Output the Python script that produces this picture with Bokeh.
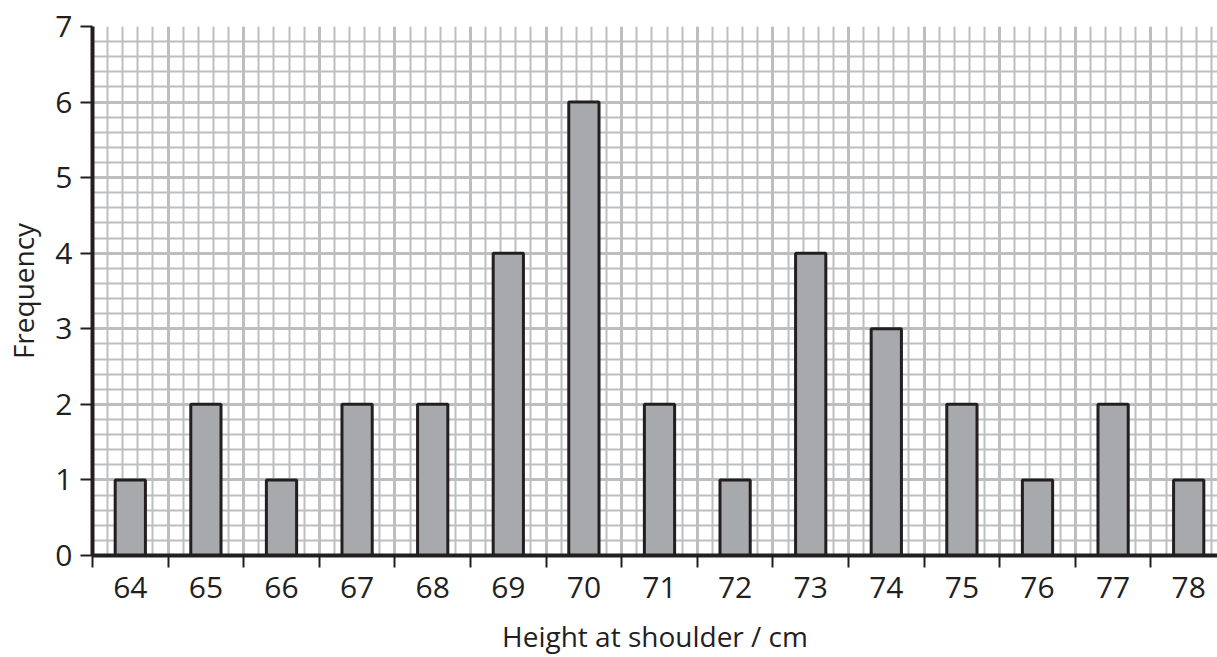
import numpy as np
from bokeh.plotting import figure
from bokeh.models import Range1d, FixedTicker
from bokeh.embed import file_html
from bokeh.resources import INLINE

# ---- data ----
heights = [64, 65, 66, 67, 68, 69, 70, 71, 72, 73, 74, 75, 76, 77, 78]
frequency = [1, 2, 1, 2, 2, 4, 6, 2, 1, 4, 3, 2, 1, 2, 1]
y_ticks = [0, 1, 2, 3, 4, 5, 6, 7]

DARK = "#231f20"
GRID = "#bcbec0"
BAR = "#a7a9ac"
FONT = "Open Sans"

x_start = heights[0] - 0.5
x_end = x_start + 1125 / 75.6

p = figure(width=1217, height=657, output_backend="svg", toolbar_location=None,
           x_range=Range1d(x_start, x_end), y_range=Range1d(0, 7),
           min_border_left=92, min_border_right=0, min_border_top=26, min_border_bottom=100)
p.outline_line_color = None
p.background_fill_color = "white"

boundaries = [h - 0.5 for h in heights] + [heights[-1] + 0.5]
x_fine = list(np.round(np.arange(x_start, heights[-1] + 0.6, 0.2), 3))
y_fine = list(np.round(np.arange(0, 7.01, 0.2), 3))

# grid
p.xgrid.ticker = FixedTicker(ticks=boundaries, minor_ticks=x_fine)
p.ygrid.ticker = FixedTicker(ticks=y_ticks, minor_ticks=y_fine)
for g in (p.xgrid, p.ygrid):
    g.grid_line_color = GRID
    g.grid_line_width = 3
    g.minor_grid_line_color = GRID
    g.minor_grid_line_width = 2

# bars
p.vbar(x=heights, top=frequency, width=0.4, bottom=0,
       fill_color=BAR, line_color=DARK, line_width=3)

# x axis
xa = p.xaxis[0]
xa.ticker = FixedTicker(ticks=heights, minor_ticks=boundaries)
xa.major_tick_line_color = None
xa.major_tick_out = 12
xa.major_tick_in = 0
xa.minor_tick_line_color = DARK
xa.minor_tick_line_width = 2
xa.minor_tick_out = 12
xa.minor_tick_in = 0
xa.axis_line_color = DARK
xa.axis_line_width = 4
xa.major_label_text_font = FONT
xa.major_label_text_font_size = "30px"
xa.major_label_text_color = DARK
xa.major_label_standoff = 9
xa.axis_label = "Height at shoulder / cm"
xa.axis_label_text_font = FONT
xa.axis_label_text_font_size = "28px"
xa.axis_label_text_font_style = "normal"
xa.axis_label_text_color = DARK
xa.axis_label_standoff = 16

# y axis
ya = p.yaxis[0]
ya.ticker = FixedTicker(ticks=y_ticks, minor_ticks=[])
ya.major_tick_line_color = DARK
ya.major_tick_line_width = 2
ya.major_tick_out = 12
ya.major_tick_in = 0
ya.minor_tick_line_color = None
ya.axis_line_color = DARK
ya.axis_line_width = 4
ya.major_label_text_font = FONT
ya.major_label_text_font_size = "30px"
ya.major_label_text_color = DARK
ya.major_label_standoff = 8
ya.axis_label = "Frequency"
ya.axis_label_text_font = FONT
ya.axis_label_text_font_size = "28px"
ya.axis_label_text_font_style = "normal"
ya.axis_label_text_color = DARK
ya.axis_label_standoff = 10

open("out.html", "w").write(file_html(p, INLINE))
